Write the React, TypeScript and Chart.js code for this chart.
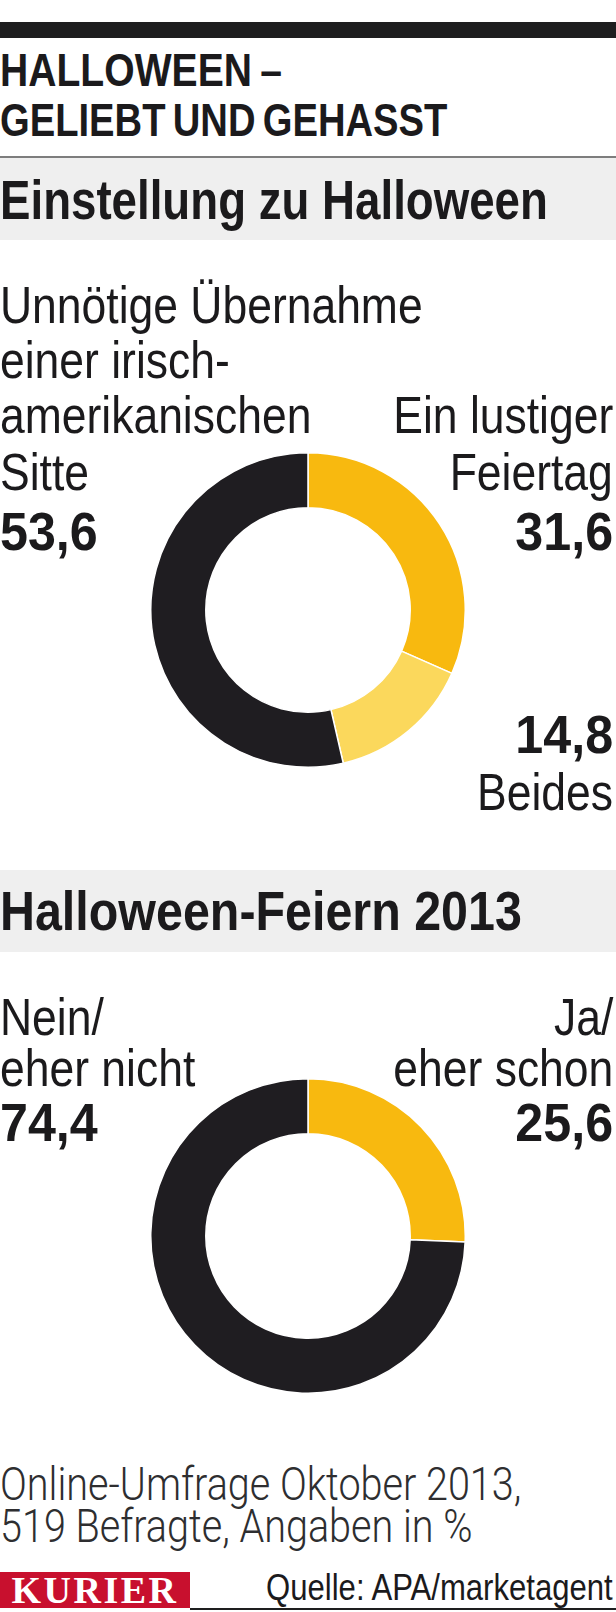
import React, { useEffect, useRef } from "react";
import { Chart, registerables } from "chart.js";

Chart.register(...registerables);

// ---- data ----
const attitudeCategories = ["Ein lustiger Feiertag", "Beides", "Unnötige Übernahme einer irisch-amerikanischen Sitte"];
const attitudeValues = [31.6, 14.8, 53.6];
const attitudeColors = ["#f8b90f", "#fbd85c", "#1f1d21"];

const celebrateCategories = ["Ja/ eher schon", "Nein/ eher nicht"];
const celebrateValues = [25.6, 74.4];
const celebrateColors = ["#f8b90f", "#1f1d21"];

const titleLines = ["HALLOWEEN –", "GELIEBT UND GEHASST"];
const sectionTitles = ["Einstellung zu Halloween", "Halloween-Feiern 2013"];
const footnoteLines = ["Online-Umfrage Oktober 2013,", "519 Befragte, Angaben in %"];
const sourceText = "Quelle: APA/marketagent";
const brandText = "KURIER";

const fmt = (v: number) => v.toFixed(1).replace(".", ",");

const W = 616;
const FONT = "'Liberation Sans', Arial, sans-serif";
const INK = "#1b1a1c";
const REG_SX = 0.855;
const NUM_SX = 0.93;

function T(props: any) {
  const {
    children, x, base, size, bold = false, align = "left", color = INK, family = FONT,
    sx = REG_SX, weight, ls = 0, ws = 0, asc = 0.8465,
  } = props;
  const style: any = {
    position: "absolute",
    top: base - asc * size,
    fontSize: size,
    lineHeight: `${size}px`,
    fontFamily: family,
    fontWeight: weight !== undefined ? weight : bold ? 700 : 400,
    whiteSpace: "nowrap",
    color,
    letterSpacing: ls,
    wordSpacing: ws,
    transform: `scaleX(${sx})`,
    transformOrigin: align === "right" ? "right center" : align === "center" ? "center center" : "left center",
  };
  if (align === "right") style.right = W - x;
  else if (align === "center") {
    style.left = x - 150;
    style.width = 300;
    style.textAlign = "center";
  } else style.left = x;
  return <div style={style}>{children}</div>;
}

function Donut(props: any) {
  const { values, colors, labels, left, top, size } = props;
  const ref = useRef<HTMLCanvasElement>(null);
  useEffect(() => {
    const chart = new Chart(ref.current as HTMLCanvasElement, {
      type: "doughnut",
      data: {
        labels,
        datasets: [
          {
            data: values,
            backgroundColor: colors,
            borderColor: "#ffffff",
            borderWidth: 1.5,
            hoverOffset: 0,
          },
        ],
      },
      options: {
        responsive: false,
        animation: false,
        cutout: "65%",
        layout: { padding: 0 },
        plugins: { legend: { display: false }, tooltip: { enabled: false } },
      },
    });
    return () => chart.destroy();
  }, []);
  return <canvas ref={ref} width={size} height={size} style={{ position: "absolute", left, top }} />;
}

export default function App() {
  const footFont = "Roboto, 'Liberation Sans', sans-serif";
  return (
    <div style={{ position: "absolute", left: 0, top: 0, width: W, height: 1612, background: "#ffffff", overflow: "hidden" }}>
      {/* top bar */}
      <div style={{ position: "absolute", left: 0, top: 22, width: W, height: 16, background: "#1e1e1f" }} />
      <T x={0} base={86} size={46} bold sx={0.85} ws={-3}>{titleLines[0]}</T>
      <T x={0} base={136} size={46} bold sx={0.83} ws={-4}>{titleLines[1]}</T>

      {/* section 1 */}
      <div style={{ position: "absolute", left: 0, top: 156, width: W, height: 2, background: "#7d7d7d" }} />
      <div style={{ position: "absolute", left: 0, top: 158, width: W, height: 82, background: "#efefef" }} />
      <T x={0} base={220} size={55} bold sx={0.83}>{sectionTitles[0]}</T>

      <T x={0} base={323} size={52}>Unnötige Übernahme</T>
      <T x={0} base={378} size={52}>einer irisch-</T>
      <T x={0} base={433} size={52}>amerikanischen</T>
      <T x={0} base={490} size={52}>Sitte</T>
      <T x={0} base={550} size={54} bold sx={NUM_SX}>{fmt(attitudeValues[2])}</T>

      <T x={613} base={433} size={52} align="right">Ein lustiger</T>
      <T x={613} base={490} size={52} align="right">Feiertag</T>
      <T x={613} base={550} size={54} bold sx={NUM_SX} align="right">{fmt(attitudeValues[0])}</T>

      <T x={613} base={753} size={54} bold sx={NUM_SX} align="right">{fmt(attitudeValues[1])}</T>
      <T x={613} base={810} size={52} align="right">Beides</T>

      <Donut values={attitudeValues} colors={attitudeColors} labels={attitudeCategories} left={150} top={452} size={316} />

      {/* section 2 */}
      <div style={{ position: "absolute", left: 0, top: 870, width: W, height: 82, background: "#efefef" }} />
      <T x={0} base={931} size={55} bold sx={0.88}>{sectionTitles[1]}</T>

      <T x={0} base={1035} size={52}>Nein/</T>
      <T x={0} base={1086} size={52}>eher nicht</T>
      <T x={0} base={1141} size={54} bold sx={NUM_SX}>{fmt(celebrateValues[1])}</T>

      <T x={613} base={1035} size={52} align="right">Ja/</T>
      <T x={613} base={1086} size={52} align="right">eher schon</T>
      <T x={613} base={1141} size={54} bold sx={NUM_SX} align="right">{fmt(celebrateValues[0])}</T>

      <Donut values={celebrateValues} colors={celebrateColors} labels={celebrateCategories} left={150} top={1078} size={316} />

      {/* footer */}
      <T x={0} base={1500} size={46} sx={0.86} weight={300} family={footFont} asc={0.84} color="#2e2e30">{footnoteLines[0]}</T>
      <T x={0} base={1542} size={46} sx={0.86} weight={300} family={footFont} asc={0.84} color="#2e2e30">{footnoteLines[1]}</T>

      <div style={{ position: "absolute", left: 0, top: 1572, width: 190, height: 36, background: "#c8102e" }} />
      <T x={95} base={1603} size={38} bold sx={1} ls={2.5} align="center" color="#ffffff"
        family="'Liberation Serif', 'DejaVu Serif', serif" asc={0.8375}>{brandText}</T>
      <div style={{ position: "absolute", left: 190, top: 1608, width: W - 190, height: 2, background: "#1e1e1f" }} />
      <T x={613} base={1600} size={37} sx={0.84} align="right">{sourceText}</T>
    </div>
  );
}
